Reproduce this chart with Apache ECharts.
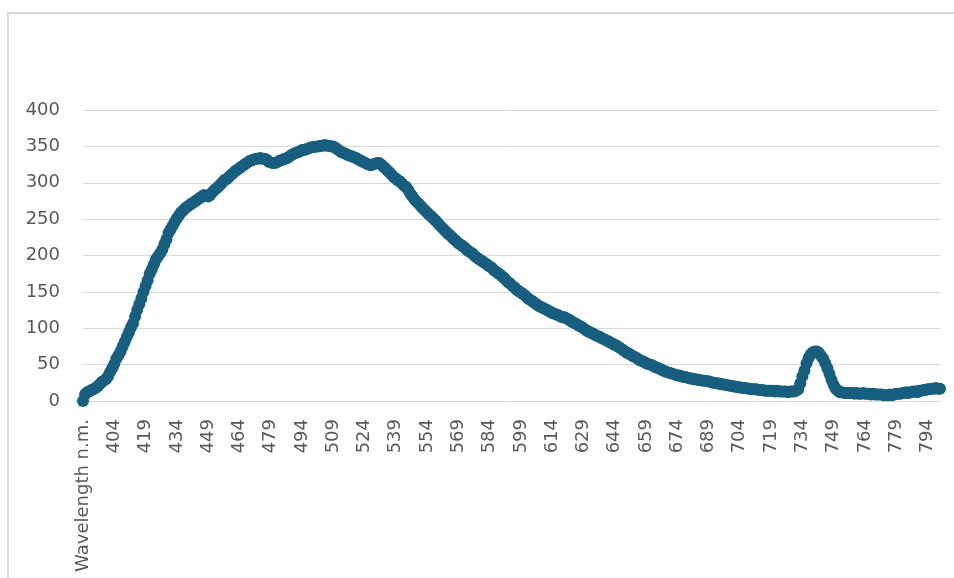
<!DOCTYPE html>
<html>
<head>
<meta charset="utf-8">
<script src="https://cdn.jsdelivr.net/npm/echarts@6/dist/echarts.min.js"></script>
<style>
  html, body { margin: 0; padding: 0; background: #ffffff; }
  #chart { width: 954px; height: 578px; }
</style>
</head>
<body>
<div id="chart"></div>
<script>
// Header cell of the wavelength column, followed by wavelengths 390..800 nm
const headerLabel = 'Wavelength n.m.';
const firstWavelength = 390;
const lastWavelength = 800;

// Measured intensity, one value per category (header row first)
const headerValue = [0];
const intensity390 = [9, 12, 13, 15, 16, 18, 20, 23, 26, 28];
const intensity400 = [30, 34, 40, 45, 51, 58, 63, 68, 75, 81];
const intensity410 = [88, 94, 101, 107, 116, 125, 133, 141, 150, 158];
const intensity420 = [166, 175, 181, 188, 195, 199, 203, 208, 215, 222];
const intensity430 = [231, 236, 241, 246, 251, 255, 259, 262, 265, 267];
const intensity440 = [269, 271, 273, 275, 277, 279, 281, 283, 282, 281];
const intensity450 = [283, 287, 290, 292, 295, 298, 301, 304, 305, 308];
const intensity460 = [311, 313, 316, 318, 320, 322, 324, 326, 328, 330];
const intensity470 = [331, 332, 333, 333, 334, 333, 333, 332, 329, 328];
const intensity480 = [327, 327, 328, 330, 331, 332, 333, 334, 336, 338];
const intensity490 = [340, 341, 342, 343, 345, 345, 346, 347, 348, 349];
const intensity500 = [349, 350, 350, 351, 351, 352, 351, 351, 350, 350];
const intensity510 = [348, 346, 344, 342, 341, 340, 338, 337, 336, 335];
const intensity520 = [334, 332, 331, 329, 328, 326, 325, 324, 325, 326];
const intensity530 = [327, 327, 325, 322, 320, 317, 314, 311, 308, 306];
const intensity540 = [303, 302, 299, 296, 294, 290, 285, 281, 277, 274];
const intensity550 = [271, 268, 265, 262, 259, 256, 254, 251, 248, 245];
const intensity560 = [242, 239, 236, 233, 230, 228, 225, 222, 220, 217];
const intensity570 = [215, 213, 211, 208, 206, 204, 202, 199, 197, 195];
const intensity580 = [193, 191, 189, 187, 185, 183, 180, 178, 176, 174];
const intensity590 = [171, 169, 166, 163, 161, 158, 156, 153, 151, 149];
const intensity600 = [147, 145, 142, 140, 138, 136, 134, 132, 130, 129];
const intensity610 = [127, 126, 124, 123, 121, 120, 119, 118, 116, 115];
const intensity620 = [115, 113, 112, 110, 108, 107, 105, 103, 102, 100];
const intensity630 = [98, 96, 95, 93, 92, 90, 89, 88, 86, 85];
const intensity640 = [83, 82, 80, 79, 77, 76, 74, 72, 70, 68];
const intensity650 = [66, 65, 63, 61, 60, 58, 56, 55, 54, 52];
const intensity660 = [51, 50, 49, 47, 46, 45, 44, 42, 41, 40];
const intensity670 = [39, 38, 37, 36, 35, 35, 34, 33, 33, 32];
const intensity680 = [31, 31, 30, 30, 29, 29, 28, 28, 27, 27];
const intensity690 = [26, 25, 25, 24, 24, 23, 23, 22, 22, 21];
const intensity700 = [21, 20, 20, 19, 19, 18, 18, 18, 17, 17];
const intensity710 = [16, 16, 16, 15, 15, 15, 14, 14, 14, 14];
const intensity720 = [14, 13, 14, 13, 13, 13, 13, 12, 13, 13];
const intensity730 = [13, 14, 16, 24, 34, 42, 52, 59, 64, 67];
const intensity740 = [68, 68, 66, 62, 58, 52, 45, 37, 29, 22];
const intensity750 = [17, 14, 12, 12, 11, 11, 11, 11, 11, 10];
const intensity760 = [11, 10, 10, 11, 10, 10, 10, 9, 10, 9];
const intensity770 = [9, 9, 9, 8, 8, 8, 9, 8, 9, 10];
const intensity780 = [10, 10, 11, 11, 12, 11, 12, 13, 13, 12];
const intensity790 = [14, 14, 15, 15, 16, 16, 17, 17, 18, 17];
const intensity800 = [17];

// Value axis ticks
const yTicks = [0, 50, 100, 150, 200, 250, 300, 350, 400];

const categories = [headerLabel];
for (let w = firstWavelength; w <= lastWavelength; w++) categories.push(String(w));

const values = [].concat(
  headerValue,
  intensity390, intensity400, intensity410, intensity420, intensity430,
  intensity440, intensity450, intensity460, intensity470, intensity480,
  intensity490, intensity500, intensity510, intensity520, intensity530,
  intensity540, intensity550, intensity560, intensity570, intensity580,
  intensity590, intensity600, intensity610, intensity620, intensity630,
  intensity640, intensity650, intensity660, intensity670, intensity680,
  intensity690, intensity700, intensity710, intensity720, intensity730,
  intensity740, intensity750, intensity760, intensity770, intensity780,
  intensity790, intensity800
);

const textColor = '#595959';
const gridColor = '#d9d9d9';
const lineColor = '#175e7f';
const fontFamily = 'DejaVu Sans';

const chart = echarts.init(document.getElementById('chart'), null, { renderer: 'canvas' });

chart.setOption({
  animation: false,
  backgroundColor: '#ffffff',
  graphic: [
    // chart-area frame (top and left edges)
    { type: 'line', shape: { x1: 7, y1: 13, x2: 954, y2: 13 }, style: { stroke: '#d9d9d9', lineWidth: 2 } },
    { type: 'line', shape: { x1: 8, y1: 12, x2: 8, y2: 578 }, style: { stroke: '#d9d9d9', lineWidth: 2 } }
  ],
  grid: { left: 83, right: 14, top: 110, bottom: 177, containLabel: false },
  xAxis: {
    type: 'category',
    data: categories,
    boundaryGap: false,
    axisLine: { show: true, lineStyle: { color: gridColor, width: 1 } },
    axisTick: { show: false },
    axisLabel: {
      interval: 14,
      rotate: 90,
      margin: 18,
      color: textColor,
      fontFamily: fontFamily,
      fontSize: 18
    },
    splitLine: { show: false }
  },
  yAxis: {
    type: 'value',
    min: yTicks[0],
    max: yTicks[yTicks.length - 1],
    interval: yTicks[1] - yTicks[0],
    axisLine: { show: false },
    axisTick: { show: false },
    axisLabel: {
      margin: 23,
      color: textColor,
      fontFamily: fontFamily,
      fontSize: 18
    },
    splitLine: { lineStyle: { color: gridColor, width: 1 } }
  },
  series: [{
    type: 'line',
    data: values,
    showSymbol: true,
    showAllSymbol: true,
    symbol: 'circle',
    symbolSize: 12,
    itemStyle: { color: lineColor },
    lineStyle: { color: lineColor, width: 7 }
  }]
});
</script>
</body>
</html>
